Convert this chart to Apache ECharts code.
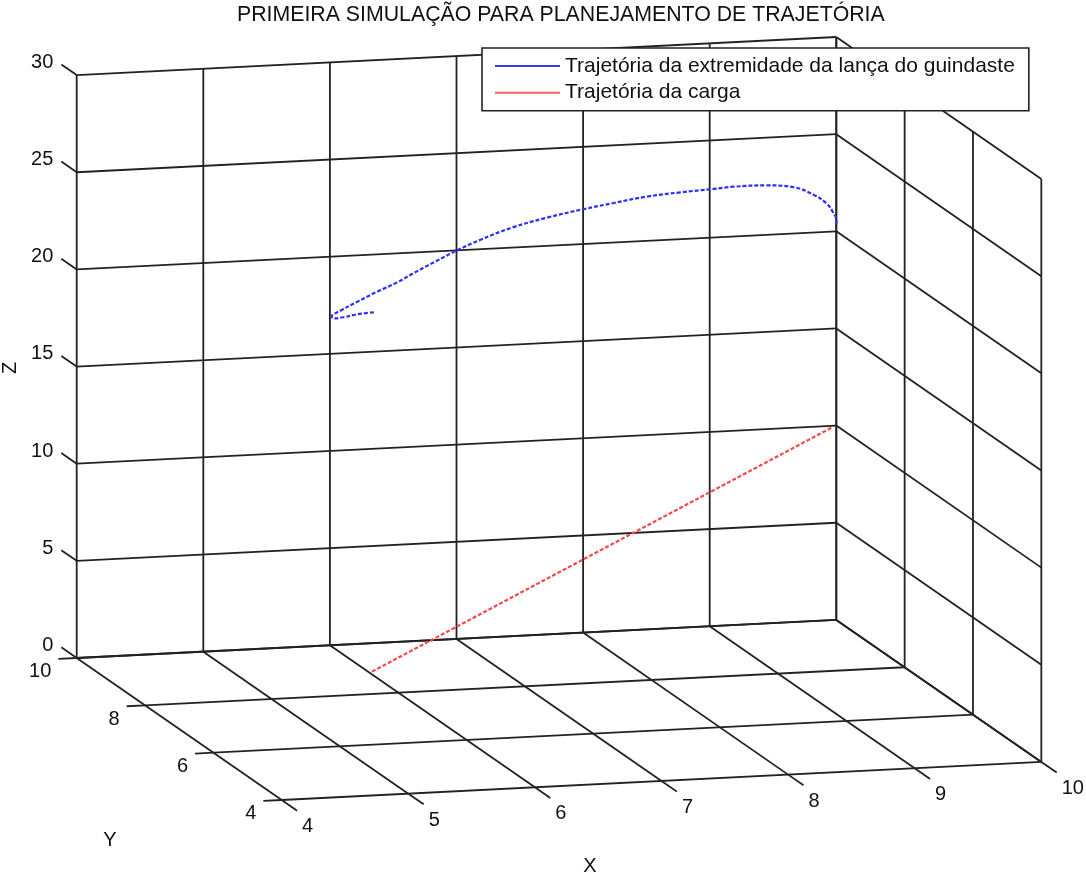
<!DOCTYPE html>
<html>
<head>
<meta charset="utf-8">
<script src="https://cdn.jsdelivr.net/npm/echarts@6/dist/echarts.min.js"></script>
<style>
html,body{margin:0;padding:0;background:#fff;}
#chart{width:1086px;height:877px;}
</style>
</head>
<body>
<div id="chart"></div>
<script>
// ---- data ----
const titleText = 'PRIMEIRA SIMULAÇÃO PARA PLANEJAMENTO DE TRAJETÓRIA';
const seriesNames = ['Trajetória da extremidade da lança do guindaste', 'Trajetória da carga'];
const xTicks = [4, 5, 6, 7, 8, 9, 10];
const yTicks = [4, 6, 8, 10];
const zTicks = [0, 5, 10, 15, 20, 25, 30];
const xTickLabels = ['4', '5', '6', '7', '8', '9', '10'];
const yTickLabels = ['4', '6', '8', '10'];
const zTickLabels = ['0', '5', '10', '15', '20', '25', '30'];
// boom tip trajectory (blue)
const boomX = [6.05, 5.93, 5.83, 5.76, 5.76, 5.84, 5.98, 6.15, 6.32, 6.46, 6.64, 6.83, 7.02, 7.29,
               7.57, 7.87, 8.12, 8.39, 8.67, 8.94, 9.11, 9.38, 9.61, 9.78, 9.89, 9.95, 9.99, 10.0];
const boomY = [8.90, 8.94, 8.98, 9.02, 9.06, 9.10, 9.14, 9.19, 9.23, 9.27, 9.31, 9.35, 9.39, 9.43,
               9.47, 9.51, 9.55, 9.59, 9.63, 9.67, 9.71, 9.75, 9.80, 9.84, 9.88, 9.92, 9.96, 10.0];
const boomZ = [18.46, 18.35, 18.18, 18.10, 18.14, 18.37, 18.72, 19.12, 19.50, 19.88, 20.36, 20.85, 21.27, 21.78,
               22.14, 22.43, 22.62, 22.81, 22.89, 22.93, 22.94, 22.87, 22.64, 22.14, 21.62, 21.12, 20.63, 20.27];
// load trajectory (red)
const loadX = [6.03, 9.96];
const loadY = [8.88, 10.0];
const loadZ = [0.0, 9.9];

// ---- view (orthographic projection of the 3D box onto the page) ----
const FONT = "'Liberation Sans', Arial, sans-serif";
const view = { ox: 76.7, oy: 658, exX: 126.6, exY: -6.35, eyX: -34.17, eyY: -23.67, ezY: -19.43, x0: 4, y0: 10, z0: 0 };
function proj(x, y, z) {
  const u = x - view.x0, v = y - view.y0, w = z - view.z0;
  return [view.ox + view.exX * u + view.eyX * v, view.oy + view.exY * u + view.eyY * v + view.ezY * w];
}

const xMin = xTicks[0], xMax = xTicks[xTicks.length - 1];
const yMin = yTicks[0], yMax = yTicks[yTicks.length - 1];
const zMin = zTicks[0], zMax = zTicks[zTicks.length - 1];

// grid segments in 3D
const segs = [];
xTicks.forEach(x => { segs.push([x, yMax, zMin, x, yMax, zMax]); segs.push([x, yMax, zMin, x, yMin, zMin]); });
zTicks.forEach(z => { segs.push([xMin, yMax, z, xMax, yMax, z]); segs.push([xMax, yMax, z, xMax, yMin, z]); });
yTicks.forEach(y => { segs.push([xMax, y, zMin, xMax, y, zMax]); segs.push([xMin, y, zMin, xMax, y, zMin]); });
// tick marks
const zTickLen = 0.45, yTickLen = 0.145, xTickLen = 0.45;
const tickSegs = [];
zTicks.forEach(z => tickSegs.push([xMin, yMax, z, xMin, yMax + zTickLen, z]));
yTicks.forEach(y => tickSegs.push([xMin, y, zMin, xMin - yTickLen, y, zMin]));
xTicks.forEach(x => tickSegs.push([x, yMin, zMin, x, yMin - xTickLen, zMin]));

function segData(list) {
  return list.map(s => { const a = proj(s[0], s[1], s[2]); const b = proj(s[3], s[4], s[5]); return [a[0], a[1], b[0], b[1]]; });
}

// tick labels
const labelItems = [];
zTicks.forEach((z, i) => labelItems.push({ p: proj(xMin, yMax + zTickLen, z), text: zTickLabels[i], align: 'right', dx: -8, dy: -2 }));
yTicks.forEach((y, i) => labelItems.push({ p: proj(xMin - yTickLen, y, zMin), text: yTickLabels[i], align: 'right', dx: -7, dy: 13 }));
xTicks.forEach((x, i) => labelItems.push({ p: proj(x, yMin - xTickLen, zMin), text: xTickLabels[i], align: 'left', dx: 5, dy: 16 }));

const boomData = boomX.map((x, i) => proj(x, boomY[i], boomZ[i]));
const loadData = loadX.map((x, i) => proj(x, loadY[i], loadZ[i]));

function lineRender(params, api) {
  const p1 = api.coord([api.value(0), api.value(1)]);
  const p2 = api.coord([api.value(2), api.value(3)]);
  return { type: 'line', shape: { x1: p1[0], y1: p1[1], x2: p2[0], y2: p2[1] },
           style: { stroke: '#222', lineWidth: 1.8 } };
}

const chart = echarts.init(document.getElementById('chart'), null, { renderer: 'canvas' });
const option = {
  animation: false,
  backgroundColor: '#fff',
  title: {
    text: titleText, left: 237, top: 5, padding: 0,
    textStyle: { fontFamily: FONT, fontSize: 21.3, fontWeight: 'normal', color: '#111' }
  },
  legend: {
    orient: 'vertical', left: 482, top: 48,
    padding: [6, 14, 6, 13],
    icon: 'rect', symbolKeepAspect: false,
    itemWidth: 65, itemHeight: 2, itemGap: 2.7,
    backgroundColor: '#fff', borderColor: '#222', borderWidth: 1.6, borderRadius: 0,
    textStyle: { fontFamily: FONT, fontSize: 21, color: '#111', lineHeight: 24 },
    data: seriesNames
  },
  grid: { left: 0, right: 0, top: 0, bottom: 0 },
  xAxis: { type: 'value', min: 0, max: 1086, show: false },
  yAxis: { type: 'value', min: 0, max: 877, inverse: true, show: false },
  graphic: [
    { type: 'text', x: 590, y: 866, style: { text: 'X', font: '20px ' + FONT, fill: '#111', align: 'center', verticalAlign: 'middle' } },
    { type: 'text', x: 110, y: 840, style: { text: 'Y', font: '20px ' + FONT, fill: '#111', align: 'center', verticalAlign: 'middle' } },
    { type: 'text', x: 10, y: 368, rotation: Math.PI / 2, style: { text: 'Z', font: '20px ' + FONT, fill: '#111', align: 'center', verticalAlign: 'middle' } }
  ],
  series: [
    {
      type: 'custom', name: 'grid', silent: true, z: 1,
      encode: { x: [0, 2], y: [1, 3] },
      data: segData(segs),
      renderItem: lineRender
    },
    {
      type: 'custom', name: 'ticks', silent: true, z: 1,
      encode: { x: [0, 2], y: [1, 3] },
      data: segData(tickSegs),
      renderItem: lineRender
    },
    {
      type: 'custom', name: 'ticklabels', silent: true, z: 1,
      encode: { x: 0, y: 1 },
      data: labelItems.map(l => [l.p[0], l.p[1]]),
      renderItem: function (params, api) {
        const it = labelItems[params.dataIndex];
        const p = api.coord([api.value(0), api.value(1)]);
        return { type: 'text', x: p[0] + it.dx, y: p[1] + it.dy,
                 style: { text: it.text, fontFamily: FONT, fontSize: 20, fill: '#111', align: it.align, verticalAlign: 'middle' } };
      }
    },
    {
      type: 'line', name: seriesNames[0], data: boomData, symbol: 'none', smooth: 0.4, z: 3,
      lineStyle: { color: '#2f2ff5', width: 2.2, type: [4, 2] },
      itemStyle: { color: '#3a3af5' }
    },
    {
      type: 'line', name: seriesNames[1], data: loadData, symbol: 'none', z: 3,
      lineStyle: { color: '#f24a4a', width: 2.2, type: [4, 2] },
      itemStyle: { color: '#f56262' }
    }
  ]
};
chart.setOption(option);
</script>
</body>
</html>
